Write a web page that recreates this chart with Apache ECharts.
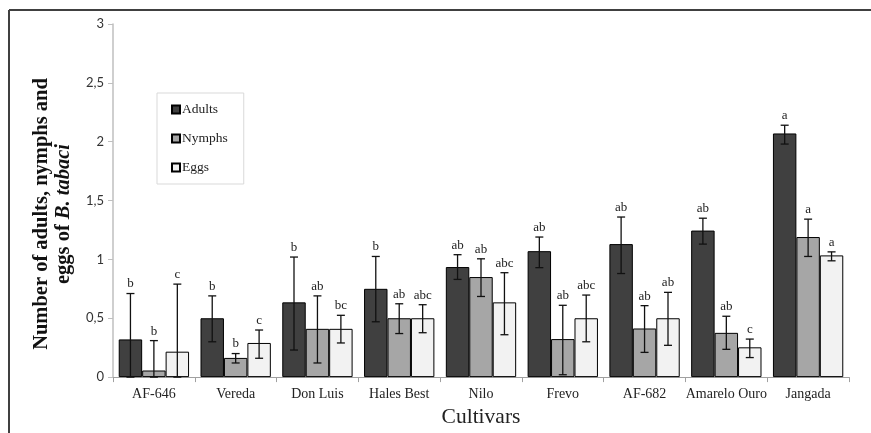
<!DOCTYPE html>
<html>
<head>
<meta charset="utf-8">
<script src="https://cdn.jsdelivr.net/npm/echarts@6/dist/echarts.min.js"></script>
<style>html,body{margin:0;padding:0;background:#fff}#c{width:871px;height:433px}</style>
</head>
<body>
<div id="c"></div>
<script>
const categories = ['AF-646','Vereda','Don Luis','Hales Best','Nilo','Frevo','AF-682','Amarelo Ouro','Jangada'];
const yTicks = [0, 0.5, 1, 1.5, 2, 2.5, 3];

const adults      = [0.32, 0.50, 0.635, 0.75, 0.935, 1.07, 1.13, 1.245, 2.07];
const adultsLow   = [0.00, 0.30, 0.23, 0.47, 0.83, 0.93, 0.88, 1.13, 1.98];
const adultsHigh  = [0.71, 0.69, 1.02, 1.025, 1.04, 1.19, 1.36, 1.35, 2.14];
const adultsLetters = ['b','b','b','b','ab','ab','ab','ab','a'];

const nymphs      = [0.056, 0.163, 0.41, 0.50, 0.85, 0.323, 0.413, 0.376, 1.19];
const nymphsLow   = [0.00, 0.12, 0.12, 0.37, 0.685, 0.02, 0.21, 0.236, 1.025];
const nymphsHigh  = [0.31, 0.20, 0.69, 0.623, 1.005, 0.61, 0.607, 0.517, 1.342];
const nymphsLetters = ['b','b','ab','ab','ab','ab','ab','ab','a'];

const eggs        = [0.216, 0.29, 0.41, 0.50, 0.635, 0.50, 0.50, 0.253, 1.034];
const eggsLow     = [0.00, 0.16, 0.29, 0.377, 0.36, 0.30, 0.27, 0.166, 0.988];
const eggsHigh    = [0.79, 0.40, 0.525, 0.615, 0.887, 0.697, 0.72, 0.323, 1.064];
const eggsLetters = ['c','c','bc','abc','abc','abc','ab','c','a'];

const seriesNames = ['Adults','Nymphs','Eggs'];
const colors = ['#404040','#a6a6a6','#f2f2f2'];
const values = [adults, nymphs, eggs];
const lows = [adultsLow, nymphsLow, eggsLow];
const highs = [adultsHigh, nymphsHigh, eggsHigh];
const letters = [adultsLetters, nymphsLetters, eggsLetters];

const GAP = 0.14;
const serif = '"Liberation Serif","Times New Roman",serif';

function errSeries(k) {
  return {
    type: 'custom',
    name: seriesNames[k] + ' err',
    z: 10,
    silent: true,
    encode: { x: 0, y: [1, 2] },
    data: categories.map((c, i) => [i, lows[k][i], highs[k][i]]),
    renderItem: function (params, api) {
      const i = api.value(0);
      const band = api.size([1, 0])[0];
      const bw = band * (1 - GAP) / 3;
      const off = (k - 1) * bw;
      const pl = api.coord([i, api.value(1)]);
      const ph = api.coord([i, api.value(2)]);
      const x = pl[0] + off;
      const cap = 4;
      const st = { stroke: '#111', lineWidth: 1.3 };
      return {
        type: 'group',
        children: [
          { type: 'line', shape: { x1: x, y1: pl[1], x2: x, y2: ph[1] }, style: st },
          { type: 'line', shape: { x1: x - cap, y1: ph[1], x2: x + cap, y2: ph[1] }, style: st },
          { type: 'line', shape: { x1: x - cap, y1: pl[1], x2: x + cap, y2: pl[1] }, style: st },
          { type: 'text', style: { x: x, y: ph[1] - 3, text: letters[k][params.dataIndex], align: 'center', verticalAlign: 'bottom', font: '13px ' + serif, fill: '#222' } }
        ]
      };
    }
  };
}

const series = [];
for (let k = 0; k < 3; k++) {
  series.push({
    type: 'bar',
    name: seriesNames[k],
    data: values[k],
    barGap: '0%',
    barCategoryGap: (GAP * 100) + '%',
    itemStyle: { color: colors[k], borderColor: '#000', borderWidth: 1 },
    emphasis: { disabled: true }
  });
}
for (let k = 0; k < 3; k++) series.push(errSeries(k));

const chart = echarts.init(document.getElementById('c'));
chart.setOption({
  animation: false,
  grid: { left: 113, right: 22, top: 24, bottom: 53 },
  legend: {
    data: seriesNames,
    left: 157, top: 93,
    orient: 'vertical',
    itemWidth: 8, itemHeight: 8, itemGap: 14,
    padding: [9, 16, 9, 14],
    borderColor: '#d9d9d9', borderWidth: 1,
    icon: 'rect',
    textStyle: { fontFamily: serif, fontSize: 13.5, color: '#222', padding: [0, 0, 0, -3], lineHeight: 15 },
    selectedMode: false
  },
  xAxis: {
    type: 'category',
    data: categories,
    name: 'Cultivars',
    nameLocation: 'middle',
    nameGap: 22,
    nameTextStyle: { fontFamily: serif, fontSize: 21.5, color: '#222' },
    axisLine: { lineStyle: { color: '#a0a0a0', width: 1 } },
    axisTick: { show: true, length: 5, lineStyle: { color: '#a0a0a0' } },
    axisLabel: { fontFamily: serif, fontSize: 14, color: '#222', margin: 10, interval: 0 }
  },
  yAxis: {
    type: 'value',
    min: 0, max: 3, interval: 0.5,
    axisLine: { show: true, lineStyle: { color: '#bfbfbf', width: 1.5 } },
    axisTick: { show: true, length: 5, lineStyle: { color: '#bfbfbf' } },
    splitLine: { show: false },
    axisLabel: { fontFamily: 'Lato, sans-serif', fontSize: 13, color: '#333', margin: 9,
      formatter: v => yTicks.indexOf(v) >= 0 ? String(v).replace('.', ',') : '' }
  },
  graphic: [
    { type: 'line', shape: { x1: 9, y1: 10, x2: 871, y2: 10 }, style: { stroke: '#404040', lineWidth: 2 } },
    { type: 'line', shape: { x1: 9, y1: 10, x2: 9, y2: 433 }, style: { stroke: '#404040', lineWidth: 2 } },
    {
      type: 'text', x: 53, y: 214, rotation: Math.PI / 2,
      style: {
        text: '{b|Number of adults, nymphs and}\n{b|eggs of }{i|B. tabaci}',
        align: 'center', verticalAlign: 'middle',
        rich: {
          b: { fontFamily: serif, fontSize: 20.5, fontWeight: 'bold', lineHeight: 22, fill: '#111' },
          i: { fontFamily: serif, fontSize: 20.5, fontWeight: 'bold', fontStyle: 'italic', lineHeight: 22, fill: '#111' }
        }
      }
    }
  ],
  series: series
});
</script>
</body>
</html>
